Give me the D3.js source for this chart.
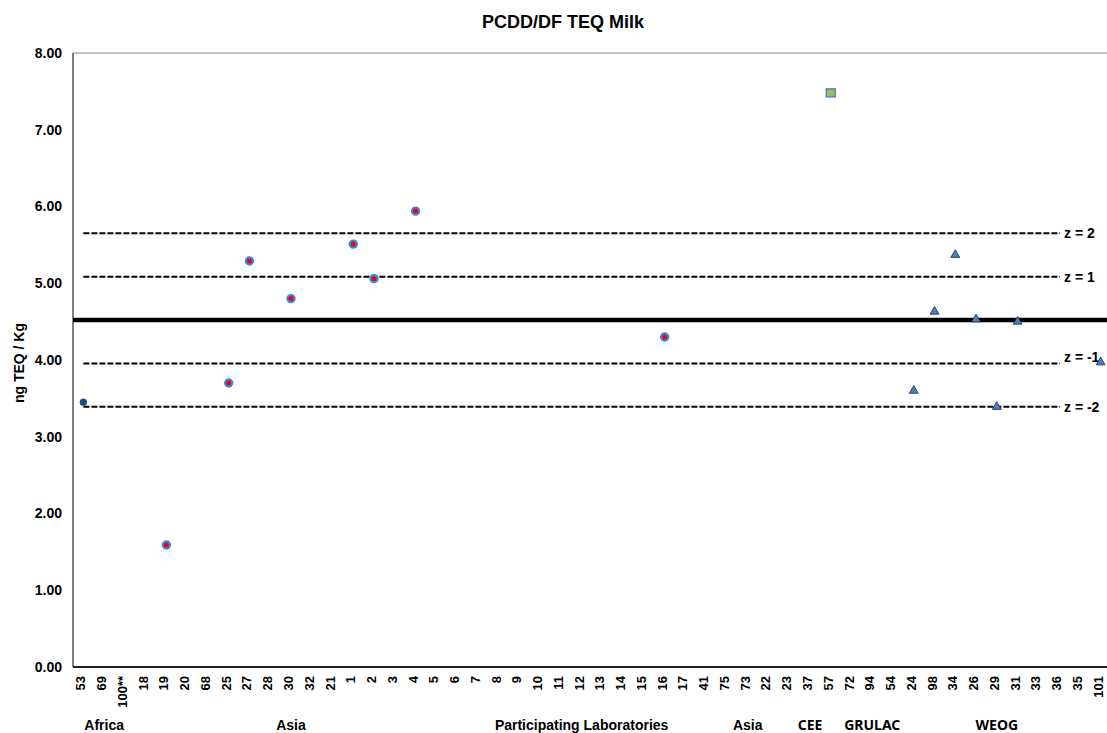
<!DOCTYPE html>
<html>
<head>
<meta charset="utf-8">
<script src="https://cdn.jsdelivr.net/npm/d3@7"></script>
<style>
  body { margin: 0; background: #fff; }
  svg text { font-family: "Liberation Sans", Arial, sans-serif; font-weight: bold; fill: #000; }
  svg text.alt { font-family: "Noto Sans", "Open Sans", sans-serif; }
</style>
</head>
<body>
<svg id="chart" width="1107" height="733"></svg>
<script>
// Laboratory codes along the x axis, in plotting order
const labCodes = ["53","69","100**","18","19","20","68","25","27","28","30","32","21","1","2","3","4","5","6","7","8","9","10","11","12","13","14","15","16","17","41","75","73","22","23","37","57","72","94","54","24","98","34","26","29","31","33","36","35","101"];

// Reported results (ng TEQ / Kg) per regional group
const africaLabs = ["53"];
const africaValues = [3.45];
const asiaLabs = ["19","25","27","30","1","2","4","16"];
const asiaValues = [1.59, 3.70, 5.29, 4.80, 5.51, 5.06, 5.94, 4.30];
const grulacLabs = ["57"];
const grulacValues = [7.48];
const weogLabs = ["24","98","34","26","29","31","101"];
const weogValues = [3.60, 4.63, 5.37, 4.53, 3.39, 4.50, 3.97];

// Assigned value and z-score bands
const assignedValue = 4.52;
const sigmaP = 0.565;
const zScores = [2, 1, -1, -2];

const yTicks = [0, 1, 2, 3, 4, 5, 6, 7, 8];

// Region captions under the axis, each centred below a lab code
const regionNames = ["Africa", "Asia", "Asia", "CEE", "GRULAC", "WEOG"];
const regionAnchors = ["69", "30", "73", "37", "94", "29"];
const axisTitle = "Participating  Laboratories";

const svg = d3.select("#chart");
const W = 1107, H = 733;
const m = { left: 73, top: 53, bottom: 667, right: 1111 };

const x = d3.scaleBand().domain(labCodes).range([m.left, m.right]);
const cx = d => x(d) + x.bandwidth() / 2;
const y = d3.scaleLinear().domain([0, 8]).range([m.bottom, m.top]);

// Title
svg.append("text").attr("x", 563).attr("y", 28).attr("text-anchor", "middle")
  .style("font-size", "18px").text("PCDD/DF TEQ Milk");

// Plot frame
svg.append("line").attr("x1", m.left).attr("x2", W).attr("y1", m.top).attr("y2", m.top)
  .attr("stroke", "#8a8a8a").attr("stroke-width", 1.2);
svg.append("line").attr("x1", m.left).attr("x2", m.left).attr("y1", m.top).attr("y2", m.bottom)
  .attr("stroke", "#555").attr("stroke-width", 1.5);

// Y axis
const yAxis = svg.append("g").attr("transform", `translate(${m.left},0)`)
  .call(d3.axisLeft(y).tickValues(yTicks).tickFormat(d3.format(".2f")).tickSize(0).tickPadding(11));
yAxis.select(".domain").remove();
yAxis.selectAll("text").style("font-size", "14px").style("font-family", null);

svg.append("text").attr("transform", `translate(24,${y(3.96)}) rotate(-90)`)
  .attr("text-anchor", "middle").style("font-size", "14px").text("ng TEQ / Kg");

// X axis with rotated lab codes
const xAxis = svg.append("g").attr("transform", `translate(0,${m.bottom})`)
  .call(d3.axisBottom(x).tickSize(0).tickPadding(0));
xAxis.select(".domain").attr("stroke", "#222").attr("stroke-width", 2)
  .attr("d", `M${m.left},0H${W}`);
xAxis.selectAll("text")
  .style("font-size", "13px").style("font-family", null)
  .attr("text-anchor", "end").attr("dy", null)
  .attr("transform", "translate(2,9) rotate(-90)")
  .attr("x", 0).attr("y", 0);

// Region captions
svg.selectAll("text.region").data(regionNames).join("text")
  .attr("class", (d, i) => i >= 3 ? "region alt" : "region")
  .attr("x", (d, i) => cx(regionAnchors[i]))
  .attr("y", 730).attr("text-anchor", "middle")
  .style("font-size", "14px").text(d => d);
svg.append("text").attr("x", cx("12")).attr("y", 730).attr("text-anchor", "middle")
  .style("font-size", "14px").text(axisTitle);

// z-score reference lines
const lineStart = cx(labCodes[0]);
const lineEnd = 1060;
svg.selectAll("line.zline").data(zScores).join("line")
  .attr("class", "zline")
  .attr("x1", lineStart).attr("x2", lineEnd)
  .attr("y1", d => y(assignedValue + d * sigmaP)).attr("y2", d => y(assignedValue + d * sigmaP))
  .attr("stroke", "#000").attr("stroke-width", 2).attr("stroke-dasharray", "6,2");
svg.selectAll("text.zlab").data(zScores).join("text")
  .attr("class", "zlab")
  .attr("x", 1064)
  .attr("y", d => y(assignedValue + d * sigmaP) + (d === -1 ? -1 : 5))
  .style("font-size", "14px")
  .text(d => `z = ${d}`);

// Assigned value
svg.append("line").attr("x1", m.left).attr("x2", W)
  .attr("y1", y(assignedValue)).attr("y2", y(assignedValue))
  .attr("stroke", "#000").attr("stroke-width", 4.5);

// Africa
svg.selectAll("circle.africa").data(africaLabs).join("circle")
  .attr("class", "africa")
  .attr("cx", d => cx(d)).attr("cy", (d, i) => y(africaValues[i])).attr("r", 3.6)
  .attr("fill", "#1f4a7e");

// Asia
svg.selectAll("circle.asia").data(asiaLabs).join("circle")
  .attr("class", "asia")
  .attr("cx", d => cx(d)).attr("cy", (d, i) => y(asiaValues[i])).attr("r", 3.6)
  .attr("fill", "#f00010").attr("stroke", "#3a86dc").attr("stroke-width", 2.2);

// GRULAC
const sq = 9;
svg.selectAll("rect.grulac").data(grulacLabs).join("rect")
  .attr("class", "grulac")
  .attr("x", d => cx(d) - sq / 2).attr("y", (d, i) => y(grulacValues[i]) - sq / 2 + 0.5)
  .attr("width", sq).attr("height", sq - 1)
  .attr("fill", "#9bbb59").attr("stroke", "#4f81bd").attr("stroke-width", 1.4);

// WEOG
const tri = d3.symbol().type(d3.symbolTriangle).size(34);
svg.selectAll("path.weog").data(weogLabs).join("path")
  .attr("class", "weog")
  .attr("transform", (d, i) => `translate(${cx(d)},${y(weogValues[i])})`)
  .attr("d", tri)
  .attr("fill", "#4f81bd").attr("stroke", "#1e3658").attr("stroke-width", 0.9);
</script>
</body>
</html>
